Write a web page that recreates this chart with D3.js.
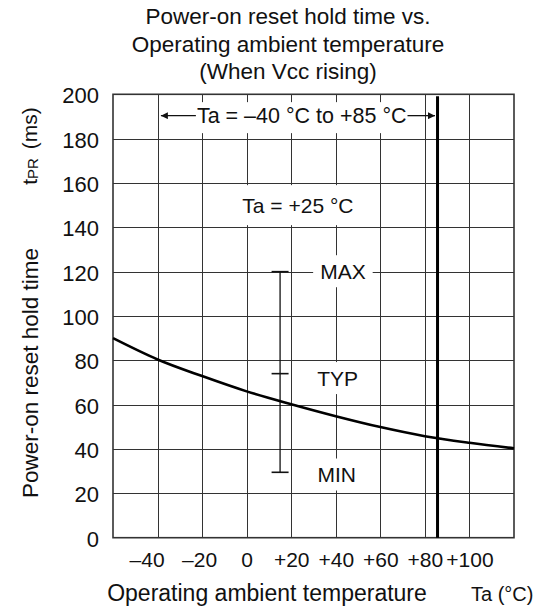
<!DOCTYPE html>
<html>
<head>
<meta charset="utf-8">
<script src="https://cdn.jsdelivr.net/npm/d3@7"></script>
<style>
  html, body { margin: 0; padding: 0; background: #fff; }
  text { font-family: "Liberation Sans", Arial, Helvetica, sans-serif; fill: #111; }
</style>
</head>
<body>
<svg id="chart" width="544" height="615"></svg>
<script>
// ---------------- data ----------------
const titleLines = ["Power-on reset hold time vs.", "Operating ambient temperature", "(When Vcc rising)"];
const xTicks = [-40, -20, 0, 20, 40, 60, 80, 100];
const yTicks = [0, 20, 40, 60, 80, 100, 120, 140, 160, 180, 200];
const tempPoints = [-60, -40, -20, 0, 20, 40, 60, 80, 100, 120];
const holdTimeTyp = [90, 80.4, 72.9, 66, 60.2, 54.8, 49.9, 45.8, 42.8, 40.3];
const rangeLimitTemp = 85;               // thick vertical line
const rangeArrow = [-38.5, 85];          // Ta = -40 to +85 arrow
const errTemp = 15;                      // Ta = +25 spec bar position
const errMax = 120, errTyp = 74, errMin = 29.5;
const annotations = [
  { text: "Ta = +25 °C", t: 23, v: 150 },
  { text: "MAX", t: 43.2, v: 120.2 },
  { text: "TYP", t: 40.8, v: 72 },
  { text: "MIN", t: 40.4, v: 28.5 }
];
const rangeText = { text: "Ta = –40 °C to +85 °C", t: 24.7, v: 190.6 };

// ---------------- layout ----------------
const svg = d3.select("#chart");
const W = 544, H = 615;
const margin = { left: 113, top: 94.3, right: 30, bottom: 77.3 };
const x = d3.scaleLinear().domain([-60, 120]).range([margin.left, W - margin.right]);
const y = d3.scaleLinear().domain([0, 200]).range([H - margin.bottom, margin.top]);
const font = '"Liberation Sans", Arial, Helvetica, sans-serif';

// title
svg.append("g").selectAll("text").data(titleLines).join("text")
  .attr("x", 288).attr("y", (d, i) => 24 + i * 27.5)
  .attr("text-anchor", "middle").attr("font-size", 22.5).text(d => d);

// grid
const grid = svg.append("g").attr("stroke", "#333").attr("stroke-width", 1);
grid.selectAll("line.v").data(xTicks).join("line").attr("class", "v")
  .attr("x1", d => Math.round(x(d)) + 0.5).attr("x2", d => Math.round(x(d)) + 0.5)
  .attr("y1", y(200)).attr("y2", y(0));
grid.selectAll("line.h").data(yTicks.filter(d => d > 0 && d < 200)).join("line").attr("class", "h")
  .attr("y1", d => Math.round(y(d)) + 0.5).attr("y2", d => Math.round(y(d)) + 0.5)
  .attr("x1", x(-60)).attr("x2", x(120));

// annotation backgrounds (white boxes hiding grid)
const annG = svg.append("g");

// border
svg.append("rect").attr("x", x(-60)).attr("y", y(200))
  .attr("width", x(120) - x(-60)).attr("height", y(0) - y(200))
  .attr("fill", "none").attr("stroke", "#333").attr("stroke-width", 1.6);

// axes
const fmtX = d => d < 0 ? "–" + Math.abs(d) : (d > 0 ? "+" + d : "0");
const xAxis = svg.append("g").attr("transform", `translate(0,${y(0)})`)
  .call(d3.axisBottom(x).tickValues(xTicks).tickSize(0).tickPadding(14).tickFormat(fmtX));
xAxis.select(".domain").remove();
xAxis.selectAll("text").attr("font-size", 21).attr("font-family", font).attr("fill", "#111")
  .attr("dx", d => d === -40 ? -11 : (d === -20 ? -3 : 0));

const yAxis = svg.append("g").attr("transform", `translate(${x(-60)},0)`)
  .call(d3.axisLeft(y).tickValues(yTicks).tickSize(0).tickPadding(14).tickFormat(d3.format("d")));
yAxis.select(".domain").remove();
yAxis.selectAll("text").attr("font-size", 22).attr("font-family", font).attr("fill", "#111").attr("dy", "0.38em");

// axis titles
svg.append("text").attr("x", 267).attr("y", 601).attr("text-anchor", "middle")
  .attr("font-size", 23).text("Operating ambient temperature");
svg.append("text").attr("x", 471).attr("y", 601).attr("font-size", 20).text("Ta (°C)");

svg.append("text").attr("transform", "translate(38,373) rotate(-90)")
  .attr("text-anchor", "middle").attr("font-size", 22.5).text("Power-on reset hold time");
const tpr = svg.append("text").attr("transform", "translate(37,146) rotate(-90)")
  .attr("text-anchor", "middle").attr("font-size", 21);
tpr.append("tspan").text("t");
tpr.append("tspan").attr("font-size", 15).attr("dy", 1).text("PR");
tpr.append("tspan").attr("dy", -1).attr("dx", 3).text(" (ms)");

// range annotation (top)
const rt = annG.append("text").attr("x", x(rangeText.t)).attr("y", y(rangeText.v))
  .attr("dy", "0.36em").attr("text-anchor", "middle").attr("font-size", 21.5).text(rangeText.text);
const rb = rt.node().getBBox();
annG.insert("rect", "text").attr("x", rb.x - 2).attr("y", y(rangeText.v) - 13)
  .attr("width", rb.width + 4).attr("height", 31).attr("fill", "#fff");

// other annotations
annotations.forEach(a => {
  const t = annG.append("text").attr("x", x(a.t)).attr("y", y(a.v)).attr("dy", "0.36em")
    .attr("text-anchor", "middle").attr("font-size", 21).text(a.text);
  const b = t.node().getBBox();
  const padX = a.text.startsWith("Ta") ? 6 : 7;
  const h = a.text.startsWith("Ta") ? 40 : 32;
  annG.insert("rect", "text").attr("x", b.x - padX).attr("y", y(a.v) - h / 2)
    .attr("width", b.width + 2 * padX).attr("height", h).attr("fill", "#fff");
});

// arrows
const defs = svg.append("defs");
defs.append("marker").attr("id", "arr").attr("viewBox", "0 0 10 10")
  .attr("refX", 10).attr("refY", 5).attr("markerWidth", 12).attr("markerHeight", 7)
  .attr("markerUnits", "userSpaceOnUse").attr("orient", "auto")
  .append("path").attr("d", "M0,0 L10,5 L0,10 z").attr("fill", "#111");
const ay = y(rangeText.v) + 0.5;
svg.append("line").attr("x1", rb.x - 1).attr("x2", x(rangeArrow[0])).attr("y1", ay).attr("y2", ay)
  .attr("stroke", "#111").attr("stroke-width", 1.3).attr("marker-end", "url(#arr)");
svg.append("line").attr("x1", rb.x + rb.width + 1).attr("x2", x(rangeArrow[1]) - 1).attr("y1", ay).attr("y2", ay)
  .attr("stroke", "#111").attr("stroke-width", 1.3).attr("marker-end", "url(#arr)");

// thick limit line at +85
svg.append("line").attr("x1", x(rangeLimitTemp) + 1.5).attr("x2", x(rangeLimitTemp) + 1.5)
  .attr("y1", y(200) + 2).attr("y2", y(0))
  .attr("stroke", "#000").attr("stroke-width", 3);

// spec bar
const eg = svg.append("g").attr("stroke", "#111").attr("stroke-width", 1.3);
eg.append("line").attr("x1", x(errTemp)).attr("x2", x(errTemp)).attr("y1", y(errMax)).attr("y2", y(errMin));
eg.selectAll("line.cap").data([errMax, errTyp, errMin]).join("line").attr("class", "cap")
  .attr("x1", x(errTemp) - 8.5).attr("x2", x(errTemp) + 8.5)
  .attr("y1", d => y(d)).attr("y2", d => y(d)).attr("stroke-width", 1.6);

// curve
const pts = tempPoints.map((t, i) => [t, holdTimeTyp[i]]);
svg.append("path").datum(pts)
  .attr("d", d3.line().x(d => x(d[0])).y(d => y(d[1])).curve(d3.curveMonotoneX))
  .attr("fill", "none").attr("stroke", "#000").attr("stroke-width", 2.6);
</script>
</body>
</html>
